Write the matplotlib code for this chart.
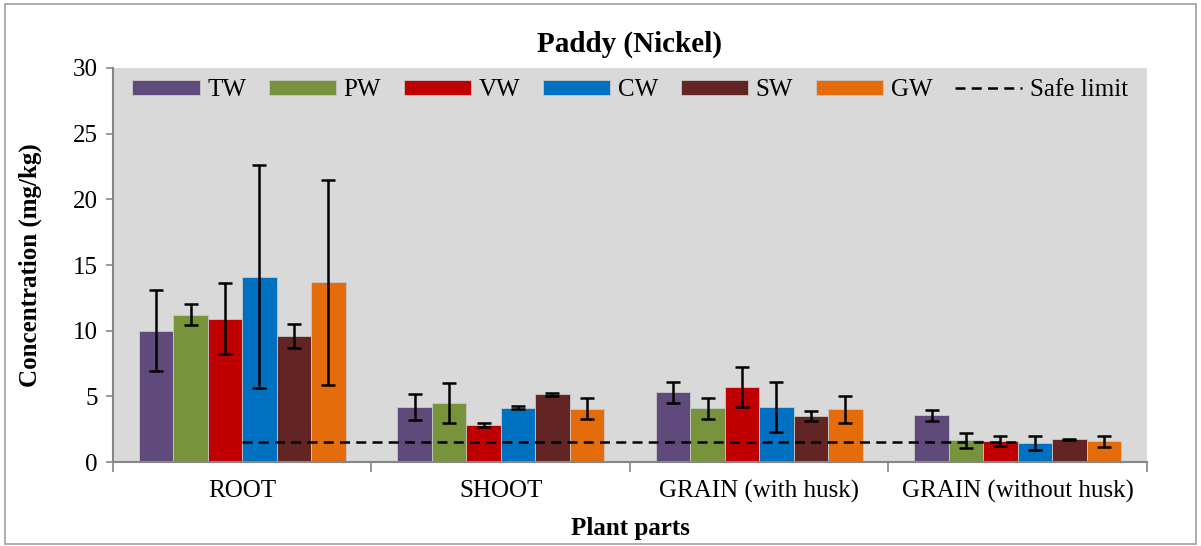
import matplotlib.pyplot as plt
from matplotlib.patches import Rectangle
import numpy as np

plt.rcParams['font.family'] = ['Liberation Serif', 'DejaVu Serif']

parts = ['ROOT', 'SHOOT', 'GRAIN (with husk)', 'GRAIN (without husk)']
series = ['TW', 'PW', 'VW', 'CW', 'SW', 'GW']
colors = ['#604a7b', '#77933c', '#c00000', '#0070c0', '#632523', '#e46c0a']

# mean values per water type for each plant part
tw = [10.0, 4.2, 5.3, 3.55]
pw = [11.2, 4.5, 4.1, 1.65]
vw = [10.9, 2.85, 5.7, 1.6]
cw = [14.1, 4.15, 4.2, 1.45]
sw = [9.6, 5.15, 3.5, 1.72]
gw = [13.7, 4.05, 4.0, 1.58]

tw_err = [3.1, 1.0, 0.8, 0.43]
pw_err = [0.8, 1.55, 0.8, 0.55]
vw_err = [2.7, 0.15, 1.5, 0.4]
cw_err = [8.5, 0.15, 1.9, 0.5]
sw_err = [0.9, 0.12, 0.35, 0.05]
gw_err = [7.8, 0.8, 1.05, 0.4]

safe_limit = [1.5, 1.5, 1.5, 1.5]

values = [tw, pw, vw, cw, sw, gw]
errors = [tw_err, pw_err, vw_err, cw_err, sw_err, gw_err]

fig = plt.figure(figsize=(12.01, 5.46), dpi=100)
ax = fig.add_axes([0.0941, 0.1538, 0.955 - 0.0941, 0.8755 - 0.1538])
ax.set_facecolor('#d9d9d9')

x = np.arange(len(parts))
n = len(series)
group = 0.8
w = group / n
for i, (name, vals, errs, c) in enumerate(zip(series, values, errors, colors)):
    pos = x - group / 2 + w * (i + 0.5)
    ax.bar(pos, vals, width=w, color=c, edgecolor='#c8c8c8', linewidth=0.6,
           label=name, zorder=2)
    ax.errorbar(pos, vals, yerr=errs, fmt='none', ecolor='black',
                elinewidth=1.8, capsize=5, capthick=1.8, zorder=3)

line, = ax.plot(x, safe_limit, color='black', linestyle=(0, (4, 2.5)), linewidth=1.8,
                label='Safe limit', zorder=4)

ax.set_xlim(-0.5, len(parts) - 0.5)
ax.set_ylim(0, 30)
ax.set_yticks(np.arange(0, 31, 5))
ax.set_xticks(np.arange(-0.5, len(parts), 1.0))
ax.set_xticklabels([])
ax.set_xticks(x, minor=True)
ax.set_xticklabels(parts, minor=True)
ax.tick_params(axis='x', which='major', length=7, width=1.2, color='#868686')
ax.tick_params(axis='x', which='minor', length=0, labelsize=18, pad=13)
ax.tick_params(axis='y', length=5, width=1.2, color='#868686', labelsize=18, pad=6)

for s in ['top', 'right']:
    ax.spines[s].set_visible(False)
for s in ['left', 'bottom']:
    ax.spines[s].set_color('#868686')
    ax.spines[s].set_linewidth(1.5)

ax.set_xlabel('Plant parts', fontsize=18, fontweight='bold', labelpad=10)
ax.set_ylabel('Concentration (mg/kg)', fontsize=18, fontweight='bold', labelpad=22)
ax.set_title('Paddy (Nickel)', fontsize=21, fontweight='bold', pad=12)

handles, labels = ax.get_legend_handles_labels()
order = [labels.index(s) for s in series] + [labels.index('Safe limit')]
ax.legend([handles[k] for k in order], [labels[k] for k in order],
          loc='upper center', ncol=7, frameon=False, fontsize=18,
          handlelength=2.7, handleheight=0.55, handletextpad=0.3,
          columnspacing=0.9, bbox_to_anchor=(0.5, 1.01), borderaxespad=0.2)

fig.patches.append(Rectangle((0.004, 0.004), 0.992, 0.988, transform=fig.transFigure,
                             fill=False, edgecolor='#a0a0a0', linewidth=1.2))

fig.savefig('out.png', dpi=100)
